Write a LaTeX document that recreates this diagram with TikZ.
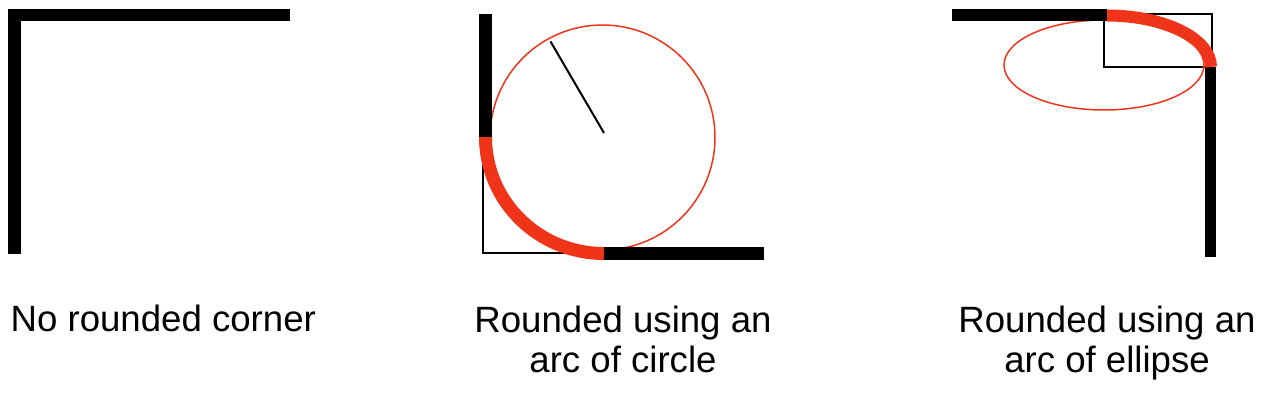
\documentclass[tikz,border=0pt]{standalone}
\usepackage{fontspec}
\setmainfont{Liberation Sans}
\definecolor{arcred}{RGB}{240,52,26}
\begin{document}
\begin{tikzpicture}[x=1pt,y=1pt,
  bar/.style={line width=12.5pt, line join=miter, line cap=butt},
  thick red/.style={arcred, line width=13pt, line cap=butt},
  thin/.style={line width=1.5pt},
  thin red/.style={arcred, line width=1.5pt},
  label/.style={inner sep=0pt, font=\fontsize{36.6}{40.5}\selectfont, align=center}]
\useasboundingbox (0,0) rectangle (1261,-411);
% panel 1
\coordinate (a1) at (14.5,-254);
\coordinate (a2) at (14.5,-15);
\coordinate (a3) at (290,-15);
\draw[bar] (a1) -- (a2) -- (a3);
\node[label, anchor=base west] (t1) at (10.5,-332) {No rounded corner};
% panel 2
\coordinate (b1) at (485.5,-14);
\coordinate (b2) at (485.5,-137);
\coordinate (b3) at (604,-253.5);
\coordinate (b4) at (764,-253.5);
\coordinate (bc) at (604,-133);
\coordinate (br) at (550.5,-41.5);
\draw[thin] (483,-137) -- (483,-253) -- (604,-253);
\draw[thin red] (602.5,-137.5) circle[radius=112.5];
\draw[line width=2pt] (bc) -- (br);
\draw[bar] (b1) -- (b2);
\draw[bar] (b3) -- (b4);
\draw[thick red] (b2) arc[start angle=180, end angle=270, x radius=118.5, y radius=116.5];
\node[label, anchor=base] (t2) at (623,-373) {Rounded using an\\arc of circle};
% panel 3
\coordinate (c1) at (952,-15.5);
\coordinate (c2) at (1107,-15.5);
\coordinate (c3) at (1210.5,-67);
\coordinate (c4) at (1210.5,-257);
\draw[thin] (1104,-15) -- (1104,-67) -- (1212,-67) -- (1212,-14) -- (1107,-14);
\draw[thin red] (1104,-65) ellipse[x radius=100, y radius=45];
\draw[bar, line width=12pt] (c1) -- (c2);
\draw[bar, line width=11.5pt] (c3) -- (c4);
\draw[thick red, line width=12pt] (c2) arc[start angle=90, end angle=0, x radius=104, y radius=51.5];
\node[label, anchor=base] (t3) at (1107,-373) {Rounded using an\\arc of ellipse};
\end{tikzpicture}
\end{document}
